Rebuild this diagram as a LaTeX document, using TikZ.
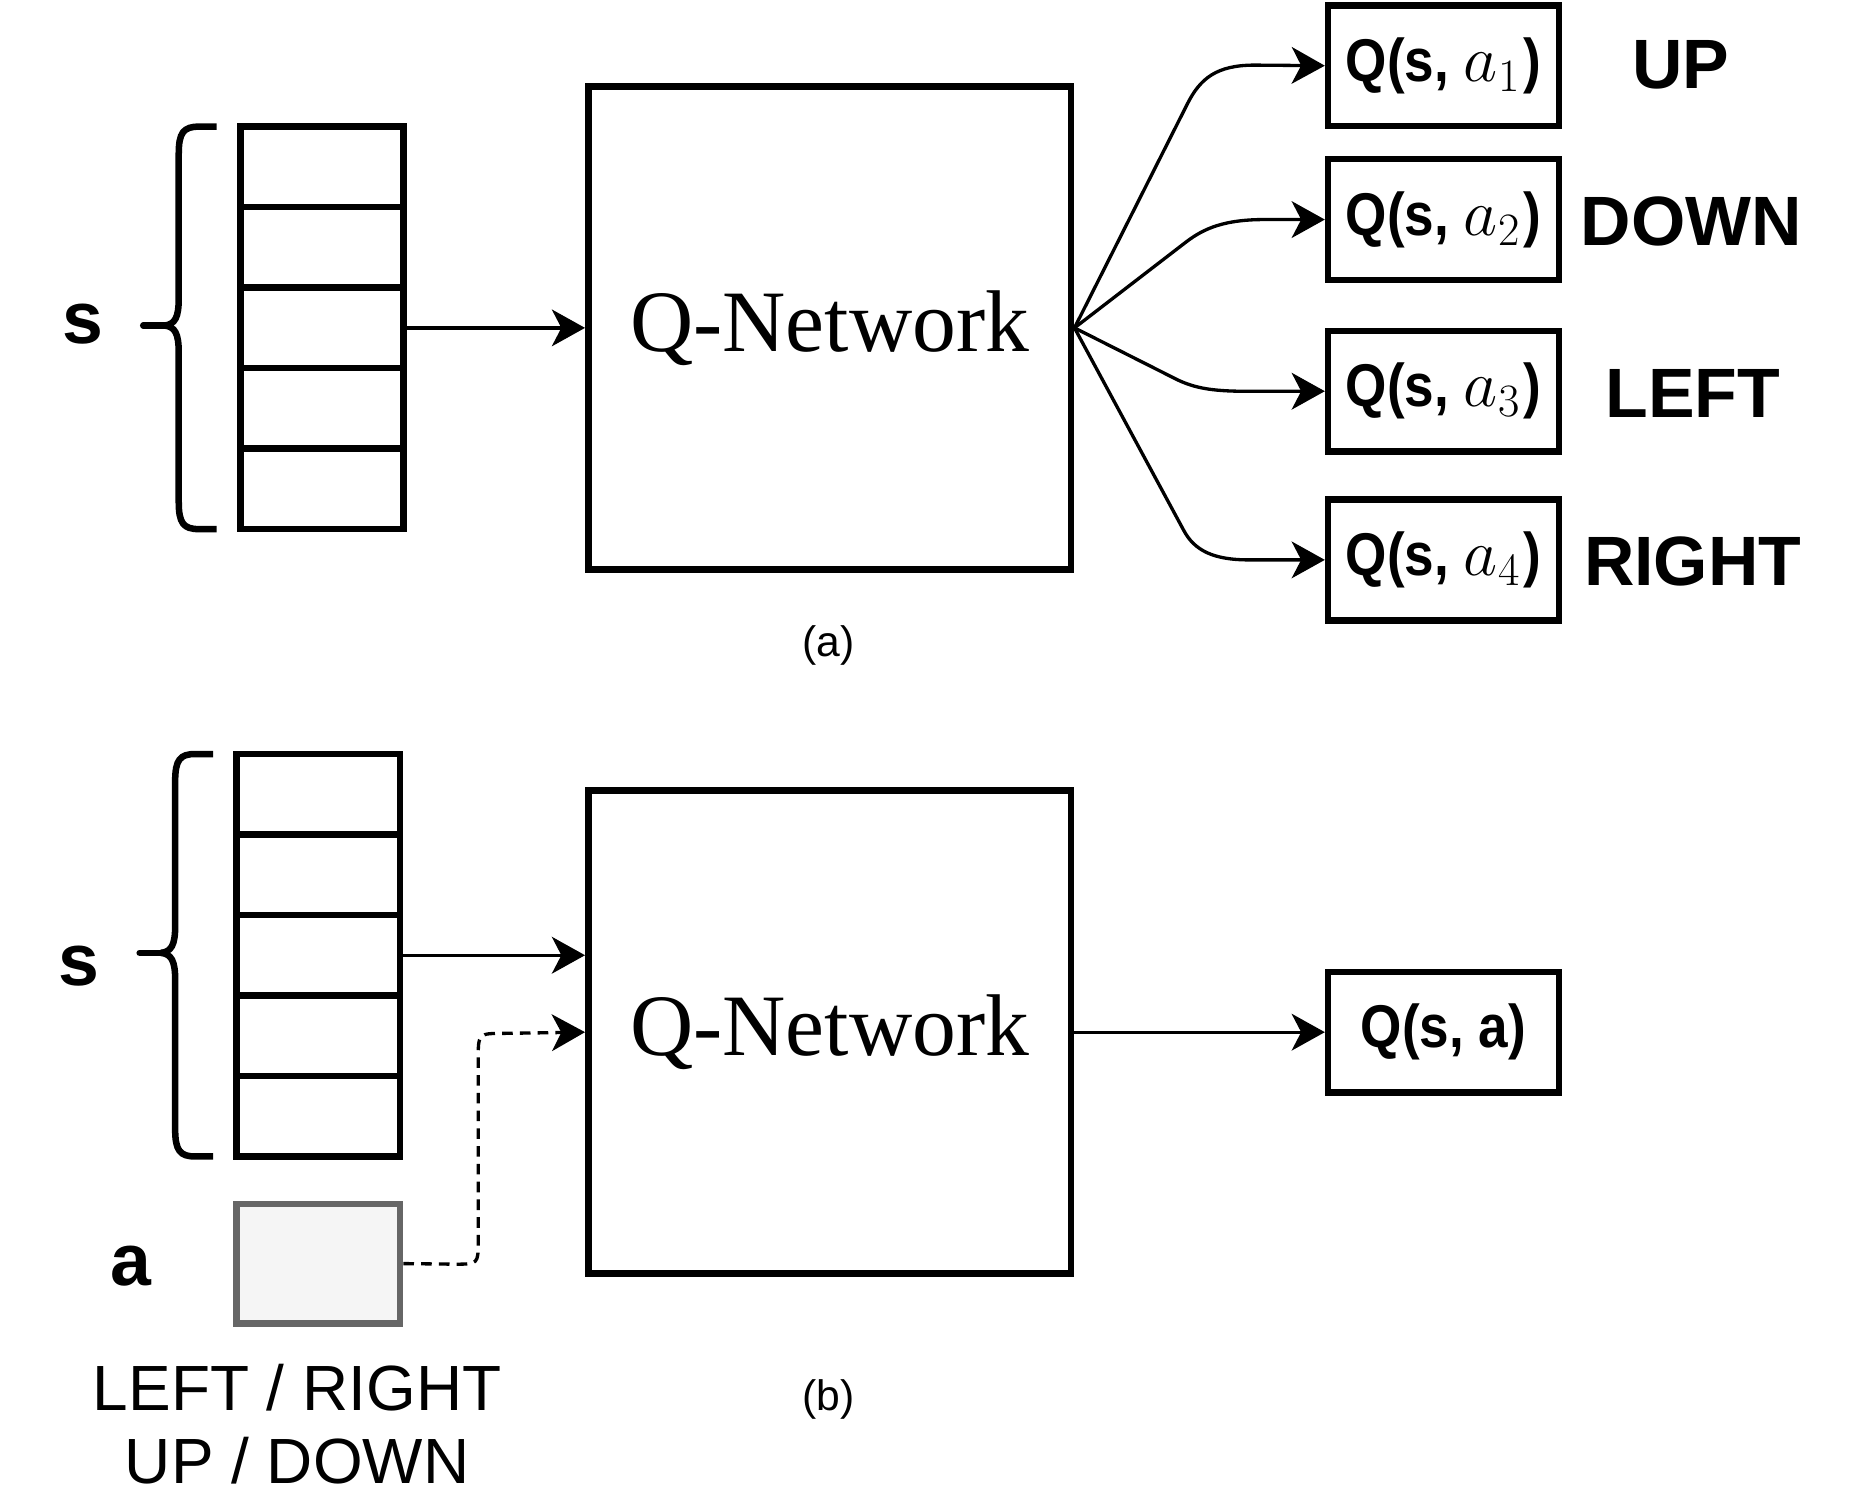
\documentclass[tikz,border=0pt]{standalone}
\usepackage{fix-cm}
\usepackage[no-math]{fontspec}
\newfontfamily\arialf{Liberation Sans}
\newfontfamily\arialc[FakeStretch=0.88]{Liberation Sans}
\newfontfamily\tnrf{Liberation Serif}
\usetikzlibrary{arrows.meta,calc}
\definecolor{agray}{HTML}{666666}
\definecolor{afill}{HTML}{F5F5F5}
\newcommand{\bigmath}[1]{{\fontsize{56}{56}\selectfont$#1$}\kern3pt}
\begin{document}
\begin{tikzpicture}[x=1pt,y=-1pt,
  cell/.style={draw, line width=5.5pt, inner sep=0pt, minimum width=138pt, minimum height=68pt},
  qnet/.style={draw, line width=5.5pt, inner sep=0pt, minimum width=408pt, minimum height=408pt,
    font=\tnrf\fontsize{74}{74}\selectfont},
  qbox/.style={draw, line width=5.5pt, inner sep=0pt, minimum width=195pt, minimum height=102pt,
    font=\arialc\bfseries\fontsize{51}{51}\selectfont},
  abox/.style={draw=agray, fill=afill, line width=5.5pt, inner sep=0pt, minimum width=138pt, minimum height=101pt},
  conn/.style={line width=2.8pt, -{Stealth[length=28pt,width=31pt,inset=8pt]}},
  brace/.style={line width=5.5pt},
  biglab/.style={font=\arialf\bfseries\fontsize{62}{62}\selectfont, inner sep=0pt},
  actlab/.style={font=\arialf\bfseries\fontsize{59}{59}\selectfont, inner sep=0pt},
  caplab/.style={font=\arialf\fontsize{36}{36}\selectfont, inner sep=0pt},
  optlab/.style={font=\arialf\fontsize{54}{62}\selectfont, inner sep=0pt, align=center}
]
\useasboundingbox (0,0) rectangle (1568,1264);

% ---------- (a) ----------
\foreach \i/\y in {1/141,2/209,3/277,4/345,5/413}{
  \node[cell] (s\i) at (272,\y) {};
}
\draw[brace] (183,107) -- (168,107) .. controls (155,107) and (151,112) .. (151,130) -- (151,252)
  .. controls (151,268) and (148,274) .. (139,275);
\draw[brace] (183,447) -- (168,447) .. controls (155,447) and (151,442) .. (151,424) -- (151,298)
  .. controls (151,282) and (148,276) .. (139,275);
\draw[brace, line cap=round] (139,275) -- (121,275);
\node[biglab] (sa) at (70,274) {s};

\node[qnet] (qa) at (701,277) {Q-Network};
\draw[conn] (s3.east) -- (qa.west);

\node[qbox] (o1) at (1219.5,55.5) {Q(s, \bigmath{a_1})};
\node[qbox] (o2) at (1219.5,185.5) {Q(s, \bigmath{a_2})};
\node[qbox] (o3) at (1219.5,330.5) {Q(s, \bigmath{a_3})};
\node[qbox] (o4) at (1219.5,473) {Q(s, \bigmath{a_4})};

\draw[conn] (qa.east) -- (1003,88) .. controls (1014,66) and (1028,55) .. (1060,55) -- (o1.west);
\draw[conn] (qa.east) -- (1000,206) .. controls (1014,195) and (1030,186) .. (1065,185.5) -- (o2.west);
\draw[conn] (qa.east) -- (995,321) .. controls (1010,328) and (1025,331) .. (1060,330.5) -- (o3.west);
\draw[conn] (qa.east) -- (1000,448) .. controls (1009,465) and (1025,473) .. (1055,473) -- (o4.west);

\node[actlab] (up) at (1420,55) {UP};
\node[actlab] (down) at (1429,187) {DOWN};
\node[actlab] (left) at (1430,332) {LEFT};
\node[actlab] (right) at (1430,474) {RIGHT};

\node[caplab] (capa) at (700,545) {(a)};

% ---------- (b) ----------
\foreach \i/\y in {1/671,2/739,3/807,4/875,5/943}{
  \node[cell] (t\i) at (269,\y) {};
}
\draw[brace] (180,637) -- (165,637) .. controls (152,637) and (148,642) .. (148,660) -- (148,782)
  .. controls (148,798) and (145,804) .. (136,805);
\draw[brace] (180,977) -- (165,977) .. controls (152,977) and (148,972) .. (148,954) -- (148,828)
  .. controls (148,812) and (145,806) .. (136,805);
\draw[brace, line cap=round] (136,805) -- (118,805);
\node[biglab] (sb) at (67,816) {s};

\node[abox] (ab) at (269,1067.5) {};
\node[biglab] (al) at (111,1070) {a};
\node[optlab] (opts) at (251,1203) {LEFT / RIGHT\\UP / DOWN};

\node[qnet] (qb) at (701,872) {Q-Network};
\draw[conn] (t3.east) -- (t3.east -| qb.west);
\draw[conn, dash pattern=on 9pt off 6pt] (ab.east) -- (384,1068) .. controls (404,1068) .. (404,1048)
  -- (404,895) .. controls (404,873) .. (426,873) -- (qb.west);

\node[qbox] (ob) at (1219.5,872) {Q(s, a)};
\draw[conn] (qb.east) -- (ob.west);

\node[caplab] (capb) at (700,1182) {(b)};
\end{tikzpicture}
\end{document}
